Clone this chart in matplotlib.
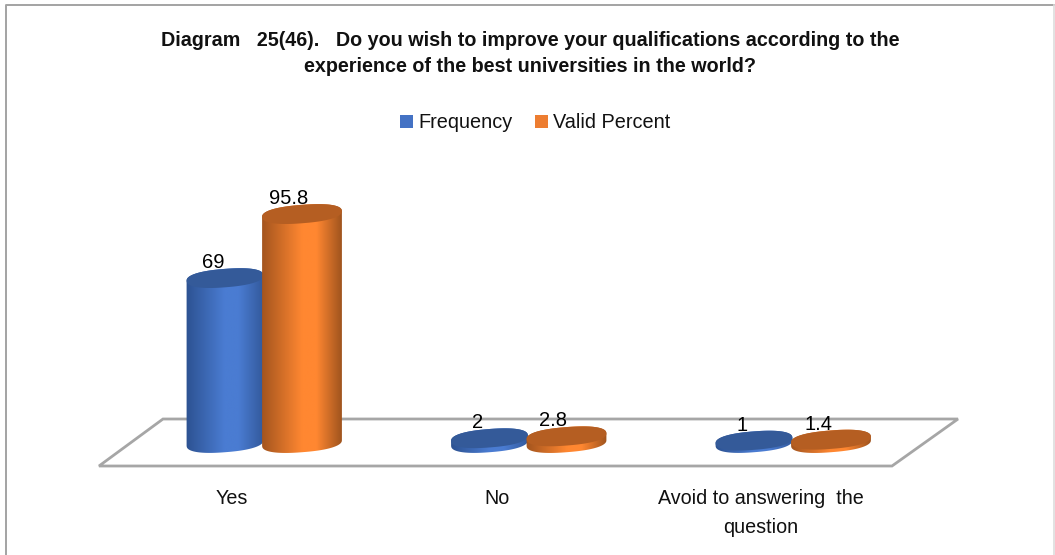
import numpy as np
import matplotlib
matplotlib.use('Agg')
import matplotlib.pyplot as plt
from matplotlib.colors import LinearSegmentedColormap
from matplotlib.patches import PathPatch, Polygon
from matplotlib.path import Path
from matplotlib.transforms import IdentityTransform

categories = ['Yes', 'No', 'Avoid to answering  the\nquestion']
frequency = [69, 2, 1]
valid_percent = [95.8, 2.8, 1.4]
frequency_labels = ['69', '2', '1']
valid_labels = ['95.8', '2.8', '1.4']

title = ('Diagram   25(46).   Do you wish to improve your qualifications according to the\n'
         'experience of the best universities in the world?')

FONT = 'Liberation Sans'
W, H = 1055, 555
fig = plt.figure(figsize=(W / 100, H / 100), dpi=100, facecolor='white')
ax = fig.add_axes([0, 0, 1, 1])
ax.set_axis_off()
# one category = 264.5 px, one value unit = 2.39 px, zero plane at y=443 from top
xlim = (-263.5 / 264.5, (W - 263.5) / 264.5)
ylim = ((443 - H) / 2.39, 443 / 2.39)
ax.set_xlim(xlim)
ax.set_ylim(ylim)

B, TILT = 9.2, np.radians(4.5)
OFFSET = 38.5 / 264.5


def ellipse_pts(cx, cy, t, a):
    # slightly squarish ellipse, the reference caps have round ends
    c, s = np.cos(t), np.sin(t)
    x = a * np.sign(c) * np.abs(c) ** 0.85
    y = B * np.sign(s) * np.abs(s) ** 0.85
    return np.c_[cx + x * np.cos(TILT) - y * np.sin(TILT),
                 cy + x * np.sin(TILT) + y * np.cos(TILT)]


def cylinder(cat_x, value, a, edge, mid, edge2, cap, z):
    (cx, y0), (_, y1) = ax.transData.transform([(cat_x, 0), (cat_x, value)])
    t0 = np.arctan2(-B * np.sin(TILT), a * np.cos(TILT))
    lower = ellipse_pts(cx, y0, np.linspace(t0 - np.pi, t0, 60), a)
    upper = ellipse_pts(cx, y1, np.linspace(t0, t0 + np.pi, 60), a)
    body = PathPatch(Path(np.r_[lower, upper, lower[:1]]), transform=IdentityTransform(),
                     fc='none', ec='none', zorder=z)
    ax.add_patch(body)
    cmap = LinearSegmentedColormap.from_list('c', [(0, edge), (0.5, mid), (0.68, mid), (1, edge2)])
    grad = np.linspace(0, 1, 128)[None, :]
    inv = ax.transData.inverted()
    (ex0, _), (ex1, _) = inv.transform([(cx - a - 1, 0), (cx + a + 1, 0)])
    (_, ey0), (_, ey1) = inv.transform([(0, y0 - 15), (0, y1 + 15)])
    im = ax.imshow(grad, cmap=cmap, extent=(ex0, ex1, ey0, ey1), aspect='auto', zorder=z)
    im.set_clip_path(body)
    top = ellipse_pts(cx, y1, np.linspace(0, 2 * np.pi, 120), a)
    ax.add_patch(Polygon(top, closed=True, transform=IdentityTransform(), fc=cap, ec='none', zorder=z + 0.1))


# floor and outer frame, in pixels from the top left
px = lambda pts: [(x, H - y) for x, y in pts]
ax.add_patch(Polygon(px([(99, 466), (163, 419), (958, 419), (892, 466)]), closed=True,
                     transform=IdentityTransform(), fc='white', ec='#a6a6a6', lw=2, zorder=1))
ax.plot([5.5, 5.5, 1054], [0, H - 4.5, H - 4.5], transform=IdentityTransform(),
        color='#a3a3a3', lw=1.4, zorder=1)
ax.plot([1054, 1054], [0, H - 4.5], transform=IdentityTransform(), color='#dddddd', lw=1.2, zorder=1)

for i in range(3):
    cylinder(i - OFFSET, frequency[i], 38.5, '#2c5190', '#4a7cd2', '#33599b', '#345a99', 3)
    cylinder(i + OFFSET, valid_percent[i], 40, '#a2541e', '#ff8731', '#9c521d', '#b55e22', 4)
    x0, y0 = ax.transData.transform((i - OFFSET, frequency[i]))
    x1, y1 = ax.transData.transform((i + OFFSET, valid_percent[i]))
    ax.text(x0 - 12, y0 + 6, frequency_labels[i], transform=IdentityTransform(), ha='center', va='bottom',
            fontsize=14.5, family=FONT, color='black', zorder=6)
    ax.text(x1 - 13, y1 + 6, valid_labels[i], transform=IdentityTransform(), ha='center', va='bottom',
            fontsize=14.5, family=FONT, color='black', zorder=6)
    lx, _ = ax.transData.transform((i, 0))
    fig.text((lx - 31.5) / W, 1 - 489 / H, categories[i], ha='center', va='top', fontsize=14.2,
             family=FONT, color='#111111', linespacing=1.65)

fig.text(530 / W, 1 - 31 / H, title, ha='center', va='top', fontsize=14.2, fontweight='bold',
         family=FONT, color='#111111', linespacing=1.5)

# legend
ax.add_patch(Polygon(px([(400, 115), (413, 115), (413, 128), (400, 128)]), closed=True,
                     transform=IdentityTransform(), fc='#4472c4', ec='none'))
ax.add_patch(Polygon(px([(535, 115), (548, 115), (548, 128), (535, 128)]), closed=True,
                     transform=IdentityTransform(), fc='#ed7d31', ec='none'))
fig.text(418 / W, 1 - 128 / H, 'Frequency', ha='left', va='baseline', fontsize=14.3, family=FONT, color='#111111')
fig.text(553 / W, 1 - 128 / H, 'Valid Percent', ha='left', va='baseline', fontsize=14.3, family=FONT, color='#111111')

ax.set_xlim(xlim)
ax.set_ylim(ylim)
fig.savefig('out.png', dpi=100)
